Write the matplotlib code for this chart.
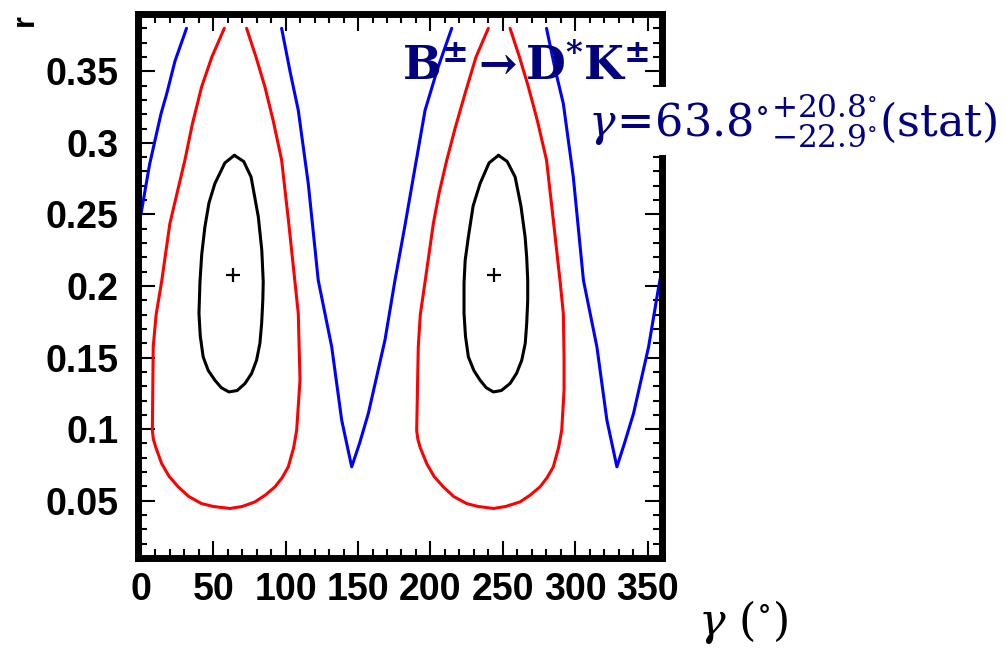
import matplotlib
matplotlib.use("Agg")
import matplotlib.pyplot as plt
from matplotlib.ticker import MultipleLocator

plt.rcParams["mathtext.fontset"] = "dejavuserif"

NAVY = "#000080"

# 1 sigma contours (black), closed
BLACK_LEFT_X = [64.5, 58, 51.1, 47, 44.2, 42, 40.8, 40.1, 41, 43, 46.5, 51.1, 55.5, 60.8, 66.5, 71.9,
                76.5, 79.9, 82.2, 83.4, 84.2, 84.5, 83.5, 81.1, 76.1, 71, 64.5]
BLACK_LEFT_Y = [0.2913, 0.286, 0.2716, 0.258, 0.2413, 0.222, 0.203, 0.181, 0.165, 0.1505, 0.141, 0.1342,
                0.129, 0.126, 0.127, 0.1319, 0.139, 0.1482, 0.16, 0.1738, 0.19, 0.203, 0.225, 0.2483,
                0.2762, 0.287, 0.2913]
BLACK_RIGHT_X = [247, 240.5, 234.3, 229.5, 226.2, 224, 223.2, 223.2, 224.2, 226.2, 230, 234.3, 238.5,
                 243.5, 249, 255, 259.5, 263.1, 265.5, 266.5, 267.2, 267.2, 266.5, 265.4, 262.5, 258.5,
                 253, 247]
BLACK_RIGHT_Y = [0.2913, 0.286, 0.2716, 0.256, 0.2343, 0.218, 0.202, 0.181, 0.165, 0.1505, 0.141,
                 0.1342, 0.129, 0.126, 0.127, 0.1319, 0.139, 0.1482, 0.16, 0.1738, 0.19, 0.204, 0.22,
                 0.2343, 0.256, 0.2762, 0.287, 0.2913]

# 2 sigma contours (red), open at the top of the scan
RED_LEFT_X = [57.6, 49, 41.9, 35.5, 30.4, 25, 20, 14.3, 10.5, 8.5, 7.9, 8.6, 10.2, 14.3, 19.5, 25.8,
              33, 41.9, 50, 61.5, 70, 78.8, 86, 92.6, 97.5, 101.8, 105.5, 107.6, 109.9, 108.7, 106.4,
              102, 97.2, 91.5, 85.7, 79.5, 73]
RED_LEFT_Y = [0.380, 0.36, 0.339, 0.313, 0.288, 0.265, 0.2436, 0.203, 0.18, 0.1575, 0.099, 0.093,
              0.0876, 0.076, 0.067, 0.0597, 0.053, 0.048, 0.046, 0.0446, 0.046, 0.0492, 0.054, 0.0597,
              0.066, 0.0737, 0.087, 0.0993, 0.1342, 0.1808, 0.203, 0.245, 0.288, 0.315, 0.339, 0.36,
              0.380]
RED_RIGHT_X = [240, 231.5, 223.9, 217, 211.3, 206, 202, 196.3, 193, 191.6, 190.5, 191.3, 193, 197.4,
               202.5, 208.9, 216, 225.1, 233, 243.5, 252, 261.9, 269, 275.7, 280.5, 284.9, 288.5,
               290.7, 292.3, 292.3, 291.8, 289.6, 285, 280.2, 274, 267.7, 261.5, 255]
RED_RIGHT_Y = [0.380, 0.36, 0.3344, 0.31, 0.288, 0.265, 0.2436, 0.203, 0.18, 0.1575, 0.099, 0.093,
               0.087, 0.076, 0.067, 0.0597, 0.053, 0.048, 0.046, 0.0446, 0.046, 0.0492, 0.054, 0.0597,
               0.066, 0.0737, 0.087, 0.0993, 0.1272, 0.15, 0.1808, 0.203, 0.245, 0.288, 0.315, 0.339,
               0.36, 0.380]

# 3 sigma contours (blue)
BLUE_A_X = [0, 6, 13.8, 18, 23.5, 31.5]
BLUE_A_Y = [0.25, 0.285, 0.320, 0.335, 0.357, 0.380]
BLUE_B_X = [97.2, 103, 108.7, 115.6, 122.5, 131.8, 138.7, 145.6, 151, 157.1, 168.6, 175.5, 182,
            188.2, 196.3, 205, 214.7]
BLUE_B_Y = [0.380, 0.350, 0.3228, 0.2716, 0.204, 0.1575, 0.1063, 0.0737, 0.090, 0.111, 0.1623,
            0.204, 0.24, 0.276, 0.3228, 0.352, 0.380]
BLUE_C_X = [280.2, 286, 291.8, 298.7, 305.7, 315, 321.9, 328.8, 334, 340.3, 350.7, 357.6, 360]
BLUE_C_Y = [0.380, 0.352, 0.3274, 0.2762, 0.204, 0.1575, 0.1063, 0.0737, 0.090, 0.111, 0.1575,
            0.199, 0.212]

BEST_X = [63.8, 243.8]
BEST_Y = [0.208, 0.208]


fig = plt.figure(figsize=(10.06, 6.49), dpi=100)
ax = fig.add_axes([0.1372, 0.1402, 0.5209, 0.8382])

line_kw = dict(lw=2.2, solid_joinstyle="round", solid_capstyle="round")
for xs, ys in [(BLUE_A_X, BLUE_A_Y), (BLUE_B_X, BLUE_B_Y), (BLUE_C_X, BLUE_C_Y)]:
    ax.plot(xs, ys, color="#0000ff", **line_kw)
for xs, ys in [(RED_LEFT_X, RED_LEFT_Y), (RED_RIGHT_X, RED_RIGHT_Y)]:
    ax.plot(xs, ys, color="#ff0000", **line_kw)
for xs, ys in [(BLACK_LEFT_X, BLACK_LEFT_Y), (BLACK_RIGHT_X, BLACK_RIGHT_Y)]:
    ax.plot(xs, ys, color="black", **line_kw)
ax.plot(BEST_X, BEST_Y, ls="none", marker="+", ms=10, mew=1.6, color="black")

ax.set_xlim(-2, 360)
ax.set_ylim(0.01, 0.39)
ax.xaxis.set_minor_locator(MultipleLocator(10))
ax.yaxis.set_minor_locator(MultipleLocator(0.01))
ax.set_xticks([0, 50, 100, 150, 200, 250, 300, 350])
ax.set_xticklabels(["0", "50", "100", "150", "200", "250", "300", "350"])
ax.set_yticks([0.05, 0.1, 0.15, 0.2, 0.25, 0.3, 0.35])
ax.set_yticklabels(["0.05", "0.1", "0.15", "0.2", "0.25", "0.3", "0.35"])
ax.tick_params(which="both", direction="in", top=True, right=True, width=1.5, color="black")
ax.tick_params(which="major", length=12)
ax.tick_params(which="minor", length=6.5)
ax.tick_params(axis="x", which="major", pad=10)
ax.tick_params(axis="y", which="major", pad=14)
for lab in ax.get_xticklabels() + ax.get_yticklabels():
    lab.set_fontfamily("Liberation Sans")
    lab.set_fontweight("bold")
    lab.set_fontsize(27)
for sp in ax.spines.values():
    sp.set_linewidth(5)

fig.text(0.025, 0.969, "r", rotation=90, ha="center", va="center",
         family="Liberation Sans", weight="bold", fontsize=22)
fig.text(0.694, 0.022, r"$\gamma\ \left(^{\circ}\right)$", fontsize=32, color="black",
         ha="left", va="baseline")

fig.text(0.4, 0.8767, r"$\mathbf{B^{\pm}\rightarrow D^{*}K^{\pm}}$", fontsize=33,
         color=NAVY, ha="left", va="baseline")
fig.text(0.584, 0.79,
         r"$\gamma\!=\!63.8^{\circ}{}^{+20.8^{\circ}}_{-22.9^{\circ}}(\mathrm{stat})$",
         fontsize=32, color=NAVY, ha="left", va="baseline",
         bbox=dict(facecolor="white", edgecolor="none", pad=4))

fig.savefig("out.png", dpi=100)
